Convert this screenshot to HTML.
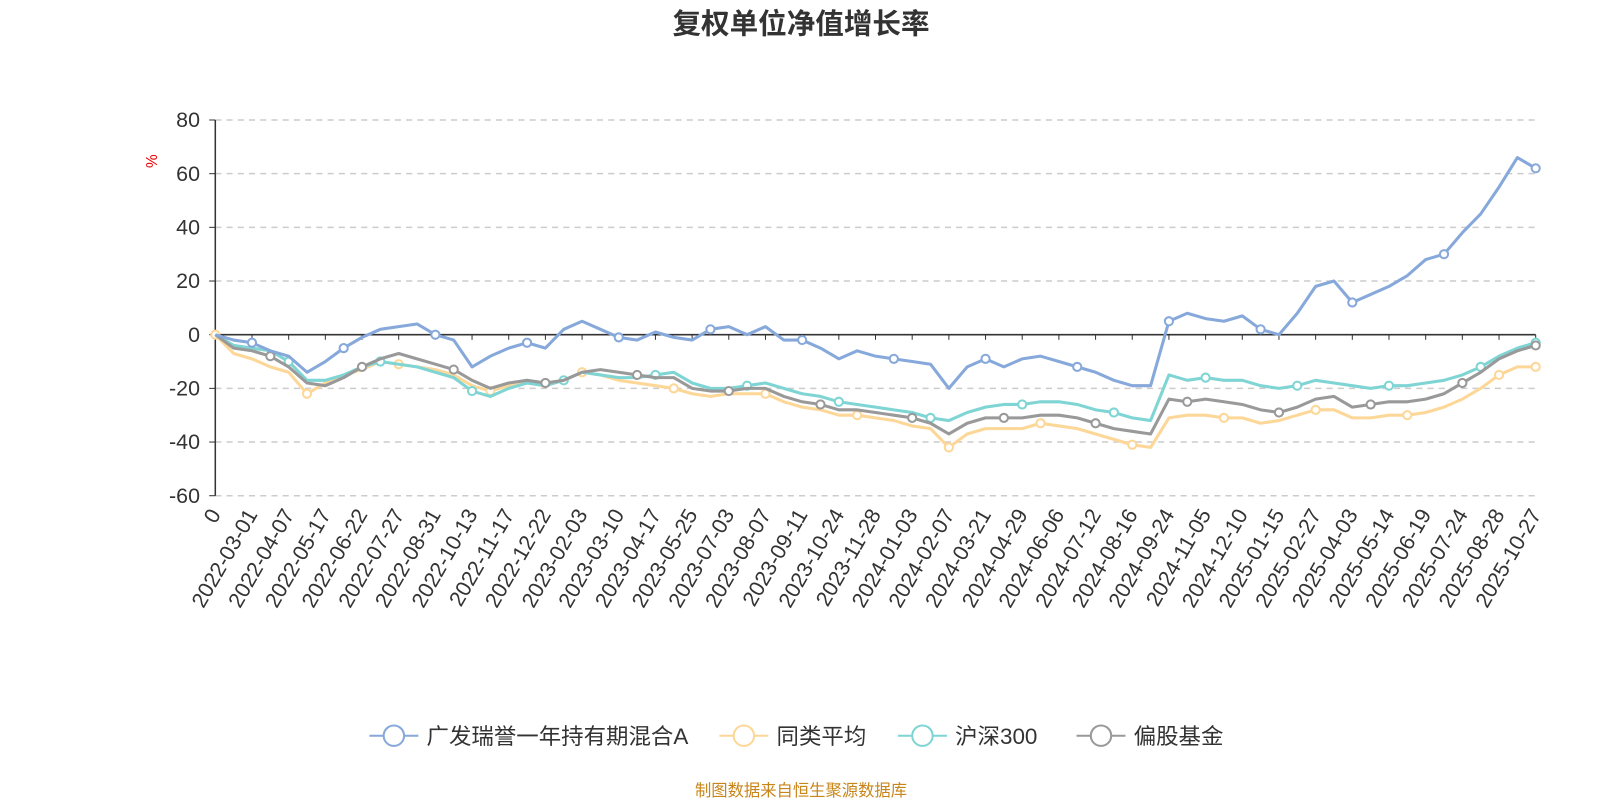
<!DOCTYPE html>
<html><head><meta charset="utf-8"><style>
body{margin:0;background:#fff;width:1600px;height:800px;overflow:hidden;font-family:"Liberation Sans","Noto Sans CJK SC",sans-serif}
</style></head><body>
<svg id="chart" width="1600" height="800" xmlns="http://www.w3.org/2000/svg" font-family="Liberation Sans, Noto Sans CJK SC, sans-serif">
<g transform="scale(1.0204)">
<text x="785" y="33" text-anchor="middle" font-size="28" font-weight="bold" fill="#333">复权单位净值增长率</text>
<text x="154" y="158" font-size="15" fill="#e00" transform="rotate(-90 154 158)" text-anchor="middle">%</text>
<g id="grid"></g><g id="axes"></g><g id="series"></g><g id="legend"></g>
<text x="785" y="780" text-anchor="middle" font-size="16" fill="#c8861a">制图数据来自恒生聚源数据库</text>
</g>
</svg>
<script>
const xLabels=["0","2022-03-01","2022-04-07","2022-05-17","2022-06-22","2022-07-27","2022-08-31","2022-10-13","2022-11-17","2022-12-22","2023-02-03","2023-03-10","2023-04-17","2023-05-25","2023-07-03","2023-08-07","2023-09-11","2023-10-24","2023-11-28","2024-01-03","2024-02-07","2024-03-21","2024-04-29","2024-06-06","2024-07-12","2024-08-16","2024-09-24","2024-11-05","2024-12-10","2025-01-15","2025-02-27","2025-04-03","2025-05-14","2025-06-19","2025-07-24","2025-08-28","2025-10-27"];
const yTicks=[80,60,40,20,0,-20,-40,-60];
const seriesNames=["广发瑞誉一年持有期混合A","同类平均","沪深300","偏股基金"];
const fundA=[0,-2,-3,-6,-8,-14,-10,-5,-1,2,3,4,0,-2,-12,-8,-5,-3,-5,2,5,2,-1,-2,1,-1,-2,2,3,0,3,-2,-2,-5,-9,-6,-8,-9,-10,-11,-20,-12,-9,-12,-9,-8,-10,-12,-14,-17,-19,-19,5,8,6,5,7,2,0,8,18,20,12,15,18,22,28,30,38,45,55,66,62];
const peerAvg=[0,-7,-9,-12,-14,-22,-18,-15,-13,-10,-11,-12,-13,-15,-19,-21,-19,-18,-19,-17,-14,-15,-17,-18,-19,-20,-22,-23,-22,-22,-22,-25,-27,-28,-30,-30,-31,-32,-34,-35,-42,-37,-35,-35,-35,-33,-34,-35,-37,-39,-41,-42,-31,-30,-30,-31,-31,-33,-32,-30,-28,-28,-31,-31,-30,-30,-29,-27,-24,-20,-15,-12,-12];
const hs300=[0,-4,-5,-6,-10,-17,-17,-15,-12,-10,-11,-12,-14,-16,-21,-23,-20,-18,-19,-17,-14,-15,-16,-16,-15,-14,-18,-20,-20,-19,-18,-20,-22,-23,-25,-26,-27,-28,-29,-31,-32,-29,-27,-26,-26,-25,-25,-26,-28,-29,-31,-32,-15,-17,-16,-17,-17,-19,-20,-19,-17,-18,-19,-20,-19,-19,-18,-17,-15,-12,-8,-5,-3];
const equityFund=[0,-5,-6,-8,-12,-18,-19,-16,-12,-9,-7,-9,-11,-13,-17,-20,-18,-17,-18,-17,-14,-13,-14,-15,-16,-16,-20,-21,-21,-20,-20,-23,-25,-26,-28,-28,-29,-30,-31,-33,-37,-33,-31,-31,-31,-30,-30,-31,-33,-35,-36,-37,-24,-25,-24,-25,-26,-28,-29,-27,-24,-23,-27,-26,-25,-25,-24,-22,-18,-14,-9,-6,-4];
const NS="http://www.w3.org/2000/svg";
const X0=211,X1=1505,Y0=328,PXU=52.6/20;
const yS=v=>Y0-v*PXU;
const xS=(i,n)=>X0+(X1-X0)*i/(n-1);
function mk(tag,attrs,parent){const e=document.createElementNS(NS,tag);for(const k in attrs)e.setAttribute(k,attrs[k]);parent.appendChild(e);return e;}
const grid=document.getElementById('grid'),axes=document.getElementById('axes'),ser=document.getElementById('series'),leg=document.getElementById('legend');
yTicks.forEach(t=>{
  if(t!==0){const l=mk('line',{x1:X0,x2:X1,y1:yS(t),y2:yS(t),stroke:'#ccc','stroke-dasharray':'6,5','stroke-width':1.5},grid);
  
  }
  const tx=mk('text',{x:196,y:yS(t)+7,'text-anchor':'end','font-size':21,fill:'#333'},axes);tx.textContent=t;
  
  
  mk('line',{x1:205,x2:X0,y1:yS(t),y2:yS(t),stroke:'#333'},axes);
});
const ya=mk('line',{x1:X0,x2:X0,y1:yS(80),y2:yS(-60),stroke:'#333','stroke-width':1.5},axes);


const xa=mk('line',{x1:X0,x2:X1,y1:Y0,y2:Y0,stroke:'#333','stroke-width':1.5},axes);


xLabels.forEach((s,i)=>{
  const x=xS(i,xLabels.length);
  mk('line',{x1:x,x2:x,y1:Y0,y2:Y0+5,stroke:'#333'},axes);
  const t=mk('text',{x:x+6,y:504,'text-anchor':'end','font-size':21,fill:'#333',transform:`rotate(-60 ${x+6} 504)`},axes);t.textContent=s;
  
  
});
const cols=['#86a8da','#fdd797','#7fd4d4','#999999'];
const data=[peerAvg,hs300,equityFund,fundA];const colIdx=[1,2,3,0];
data.forEach((arr,j)=>{
  const c=cols[colIdx[j]];
  const p=mk('polyline',{points:arr.map((v,i)=>xS(i,arr.length)+','+yS(v)).join(' '),fill:'none',stroke:c,'stroke-width':3,'stroke-linejoin':'round'},ser);
  
  
  arr.forEach((v,i)=>{if((i+j)%5===0||i===arr.length-1){const m=mk('circle',{cx:xS(i,arr.length),cy:yS(v),r:4,fill:'#fff',stroke:c,'stroke-width':2},ser);
    
    }});
});
const lx=[362,705,880,1055];
seriesNames.forEach((n,i)=>{
  const g=mk('g',{},leg);
  
  
  mk('line',{x1:lx[i],x2:lx[i]+48,y1:721,y2:721,stroke:cols[i],'stroke-width':2},g);
  mk('circle',{cx:lx[i]+24,cy:721,r:10,fill:'#fff',stroke:cols[i],'stroke-width':2},g);
  const t=mk('text',{x:lx[i]+56,y:729,'font-size':22,fill:'#333'},g);t.textContent=n;
});
</script>
</body></html>
